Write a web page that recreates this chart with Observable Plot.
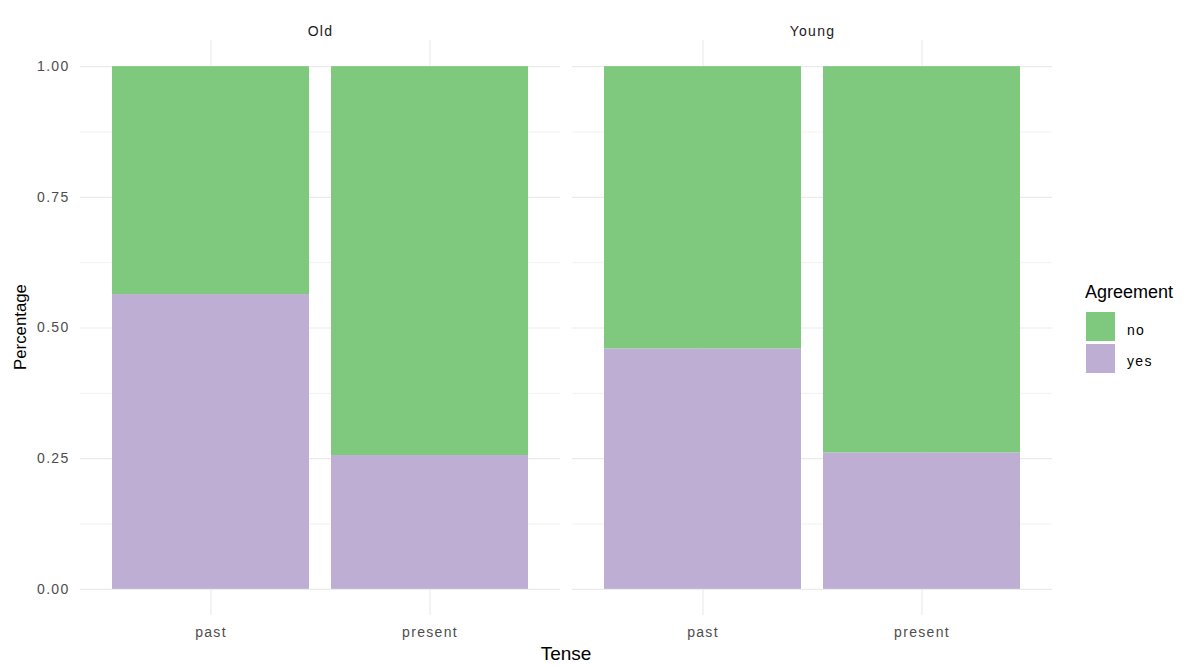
<!DOCTYPE html>
<html><head><meta charset="utf-8">
<script src="https://cdn.jsdelivr.net/npm/d3@7"></script>
<script src="https://cdn.jsdelivr.net/npm/@observablehq/plot@0.6"></script>
<style>
body{margin:0;background:#fff;}
#wrap{position:relative;width:1185px;height:666px;font-family:"Liberation Sans",Arial,sans-serif;}
.ov{position:absolute;line-height:1;white-space:nowrap;color:#000;}
.key{position:absolute;width:29px;height:29px;}
</style></head><body><div id="wrap"></div>
<script>
const ages = ["Old", "Young"];
const tenses = ["past", "present"];
const agreements = ["no", "yes"];
// order: Old-past, Old-present, Young-past, Young-present
const yesShare = [0.564, 0.256, 0.460, 0.261];
const noShare = [0.436, 0.744, 0.540, 0.739];
const yTicks = [0, 0.25, 0.5, 0.75, 1];
const yMinor = [0.125, 0.375, 0.625, 0.875];
const colors = ["#7FC97F", "#BEAED4"];

const rows = [];
ages.forEach((age, i) => tenses.forEach((tense, j) => {
  const k = i * 2 + j;
  rows.push({age, tense, agreement: "yes", value: yesShare[k]});
  rows.push({age, tense, agreement: "no", value: noShare[k]});
}));

const chart = Plot.plot({
  width: 1185, height: 666,
  marginLeft: 80, marginRight: 132, marginTop: 40, marginBottom: 51,
  style: {fontFamily: "Liberation Sans, Arial, sans-serif", fontSize: "14px", letterSpacing: "1.3px", color: "#4D4D4D", background: "transparent"},
  facet: {data: rows, x: "age"},
  fx: {domain: ages, paddingInner: 0.0243, paddingOuter: 0, axis: "top", tickSize: 0, tickPadding: 5, label: null},
  x: {domain: tenses, paddingInner: 0.1, paddingOuter: 0.1455, tickSize: 0, tickPadding: 12, label: null},
  y: {domain: [-0.05, 1.05], ticks: yTicks, tickFormat: d3.format(".2f"), tickSize: 0, tickPadding: 11, label: null},
  color: {domain: agreements, range: colors},
  marks: [
    Plot.ruleY(yMinor, {stroke: "#EBEBEB", strokeWidth: 0.7}),
    Plot.ruleY(yTicks, {stroke: "#EBEBEB", strokeWidth: 1.2}),
    Plot.ruleX(tenses, {x: d => d, stroke: "#EBEBEB", strokeWidth: 1.2}),
    Plot.barY(rows, {x: "tense", y: "value", fill: "agreement", order: ["yes", "no"]})
  ]
});
chart.querySelectorAll('[aria-label^="fx-axis"] text').forEach(t => t.setAttribute("fill", "#1A1A1A"));
const wrap = document.getElementById("wrap");
wrap.appendChild(chart);

function addText(txt, css) {
  const d = document.createElement("div");
  d.className = "ov";
  d.textContent = txt;
  Object.assign(d.style, css);
  wrap.appendChild(d);
}
addText("Tense", {left: "566px", top: "644px", fontSize: "19px", transform: "translateX(-50%)"});
addText("Percentage", {left: "21px", top: "327px", fontSize: "16.8px", transform: "translate(-50%,-50%) rotate(-90deg)"});
addText("Agreement", {left: "1085px", top: "283px", fontSize: "18px"});
const keyTops = [312, 344];
const labelTops = [323, 354];
agreements.forEach((a, i) => {
  const k = document.createElement("div");
  k.className = "key";
  k.style.left = "1086px";
  k.style.top = keyTops[i] + "px";
  k.style.background = colors[i];
  wrap.appendChild(k);
  addText(a, {left: "1127px", top: labelTops[i] + "px", fontSize: "14px", letterSpacing: "1.3px", color: "#000"});
});
</script></body></html>
